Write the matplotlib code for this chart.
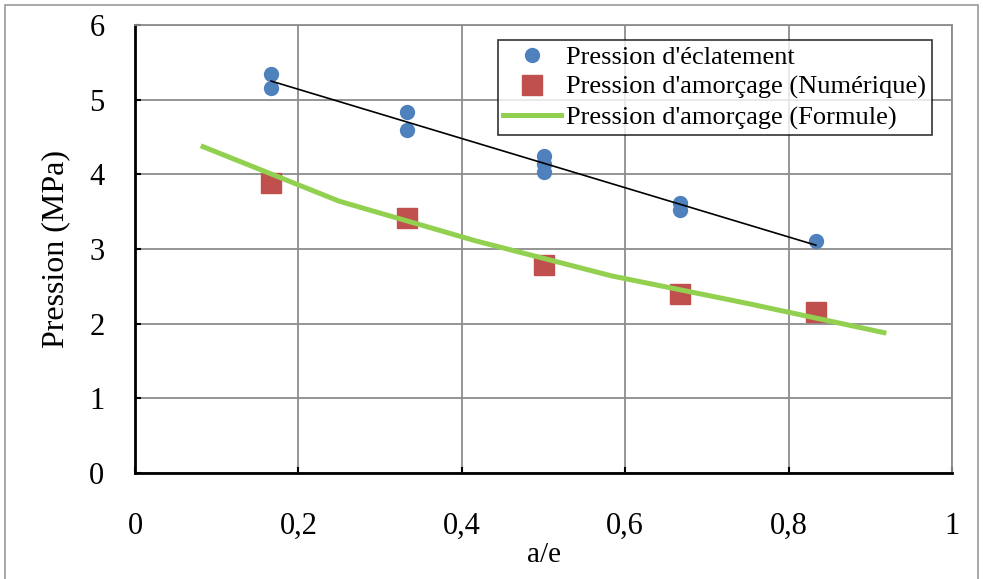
import numpy as np
import matplotlib
matplotlib.use("Agg")
import matplotlib.pyplot as plt
from matplotlib.patches import Rectangle

plt.rcParams['font.family'] = ['Liberation Serif', 'DejaVu Serif']

# Pression d'éclatement (points) at each a/e
x_ecl = [1/6, 1/6, 1/3, 1/3, 0.5, 0.5, 0.5, 2/3, 2/3, 5/6]
y_ecl = [5.35, 5.16, 4.84, 4.59, 4.24, 4.14, 4.03, 3.62, 3.52, 3.11]

# Pression d'amorçage (numérique)
x_num = [1/6, 1/3, 0.5, 2/3, 5/6]
y_num = [3.89, 3.41, 2.79, 2.40, 2.16]

# Pression d'amorçage (formule)
x_form = [1/12, 3/12, 5/12, 7/12, 9/12, 11/12]
y_form = [4.37, 3.64, 3.11, 2.64, 2.27, 1.88]

xticks = [0, 0.2, 0.4, 0.6, 0.8, 1]
xticklabels = ['0', '0,2', '0,4', '0,6', '0,8', '1']
yticks = [0, 1, 2, 3, 4, 5, 6]

fig = plt.figure(figsize=(9.83, 5.79), dpi=100)
ax = fig.add_axes([135/983, 106/579, 817/983, 448/579])

# outer frame of the chart area
fig.patches.append(Rectangle((5/983, -0.05), 973/983, 1.05 - 5/579,
                             transform=fig.transFigure, fill=False,
                             edgecolor='#9a9a9a', linewidth=1.2))

ax.plot(x_ecl, y_ecl, 'o', color='#4F81BD', markersize=10,
        label="Pression d'éclatement", zorder=3)
ax.plot(x_num, y_num, 's', color='#C0504D', markersize=14,
        label="Pression d'amorçage (Numérique)", zorder=3)
ax.plot(x_form, y_form, '-', color='#92D050', linewidth=3.6,
        label="Pression d'amorçage (Formule)", zorder=4)

# linear trend line through the burst pressures
a, b = np.polyfit(x_ecl, y_ecl, 1)
xt = np.array([min(x_ecl), max(x_ecl)])
ax.plot(xt, a * xt + b, color='black', linewidth=1.2, zorder=4)

ax.set_xlim(0, 1)
ax.set_ylim(0, 6)
ax.set_xticks(xticks)
ax.set_xticklabels(xticklabels)
ax.set_yticks(yticks)
ax.grid(True, color='#8c8c8c', linewidth=1.3)
ax.set_axisbelow(True)
for s in ['top', 'right']:
    ax.spines[s].set_color('#8c8c8c')
    ax.spines[s].set_linewidth(1.3)
for s in ['left', 'bottom']:
    ax.spines[s].set_color('black')
    ax.spines[s].set_linewidth(2)
ax.tick_params(axis='y', direction='in', length=4, width=1.5, pad=22, labelsize=22)
ax.tick_params(axis='x', direction='in', length=4, width=1.5, pad=28, labelsize=22)

ax.set_xlabel('a/e', fontsize=21, labelpad=1)
ax.set_ylabel('Pression (MPa)', fontsize=23, labelpad=14)

leg = ax.legend(loc='upper right', bbox_to_anchor=(0.975, 0.966), fontsize=19,
                frameon=True, fancybox=False, edgecolor='black',
                borderpad=0.2, labelspacing=0.25, handlelength=2.2,
                handletextpad=0.2, borderaxespad=0)
leg.get_frame().set_linewidth(1.2)

fig.savefig('out.png', dpi=100)
